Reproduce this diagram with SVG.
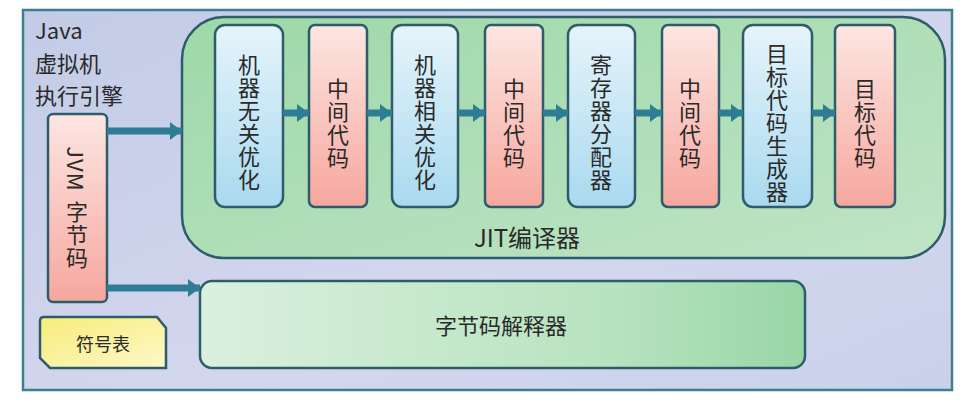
<svg xmlns="http://www.w3.org/2000/svg" width="969" height="407" viewBox="0 0 969 407">
<style>
.t{font-family:"Noto Sans CJK SC","Liberation Sans",sans-serif;fill:#2a2a2a}
.v{font-size:22px;text-anchor:middle;writing-mode:vertical-rl;letter-spacing:1px}
.bx{stroke:#2d5d6a;stroke-width:2.5}
.blue{fill:url(#gBlue)}
.red{fill:url(#gRed)}
.arr{stroke:#2f7c95;stroke-width:7;fill:none;marker-end:url(#ah)}
</style>
<defs>
<linearGradient id="gOuter" x1="0" y1="0" x2="1" y2="1">
<stop offset="0" stop-color="#c3cbe6"/><stop offset="0.6" stop-color="#d3d7ee"/><stop offset="1" stop-color="#c9d1ea"/>
</linearGradient>
<linearGradient id="gJit" x1="0" y1="0" x2="1" y2="1">
<stop offset="0" stop-color="#9ed8a8"/><stop offset="1" stop-color="#bfe4c6"/>
</linearGradient>
<linearGradient id="gBlue" x1="0" y1="0" x2="0" y2="1">
<stop offset="0" stop-color="#e6f4fb"/><stop offset="1" stop-color="#a9d9ef"/>
</linearGradient>
<linearGradient id="gRed" x1="0" y1="0" x2="0" y2="1">
<stop offset="0" stop-color="#fde6e2"/><stop offset="1" stop-color="#f6a79e"/>
</linearGradient>
<linearGradient id="gInt" x1="0" y1="0" x2="1" y2="0">
<stop offset="0" stop-color="#daf0de"/><stop offset="0.7" stop-color="#b6e2be"/><stop offset="1" stop-color="#98d6a6"/>
</linearGradient>
<linearGradient id="gYel" x1="0" y1="0" x2="1" y2="1">
<stop offset="0" stop-color="#f8ec7a"/><stop offset="1" stop-color="#fdf8c8"/>
</linearGradient>
<marker id="ah" viewBox="0 0 12 18" refX="12" refY="9" markerWidth="12" markerHeight="18" markerUnits="userSpaceOnUse" orient="auto">
<path d="M0,0 L12,9 L0,18 Z" fill="#2f7c95"/>
</marker>
</defs>
<rect width="969" height="407" fill="#ffffff"/>
<g id="frame">
<rect x="23" y="10" width="929" height="380" fill="url(#gOuter)" stroke="#3e7e8e" stroke-width="2.5"/>
<text class="t" font-size="22" x="35" y="39">Java</text>
<text class="t" font-size="22" x="35" y="72">虚拟机</text>
<text class="t" font-size="22" x="35" y="104">执行引擎</text>
</g>
<g id="jit">
<rect class="bx" x="182" y="17" width="763" height="241" rx="42" ry="42" fill="url(#gJit)"/>
<text class="t" font-size="24" x="527" y="247" text-anchor="middle">JIT编译器</text>
</g>
<g id="n1">
<rect class="bx blue" x="215" y="25" width="68" height="182" rx="10"/>
<text class="t v" x="249" y="123">机器无关优化</text>
</g>
<g id="n2">
<rect class="bx red" x="309" y="25" width="58" height="182" rx="6"/>
<text class="t v" x="338" y="124">中间代码</text>
</g>
<g id="n3">
<rect class="bx blue" x="392" y="25" width="66" height="182" rx="10"/>
<text class="t v" x="425" y="123">机器相关优化</text>
</g>
<g id="n4">
<rect class="bx red" x="485" y="25" width="58" height="182" rx="6"/>
<text class="t v" x="514" y="124">中间代码</text>
</g>
<g id="n5">
<rect class="bx blue" x="568" y="25" width="67" height="182" rx="10"/>
<text class="t v" x="601" y="123">寄存器分配器</text>
</g>
<g id="n6">
<rect class="bx red" x="662" y="25" width="57" height="182" rx="6"/>
<text class="t v" x="690" y="124">中间代码</text>
</g>
<g id="n7">
<rect class="bx blue" x="743" y="25" width="69" height="182" rx="10"/>
<text class="t v" x="777" y="123">目标代码生成器</text>
</g>
<g id="n8">
<rect class="bx red" x="835" y="25" width="60" height="182" rx="6"/>
<text class="t v" x="865" y="124">目标代码</text>
</g>
<g id="jvm">
<rect class="bx red" x="48" y="114" width="59" height="188" rx="5"/>
<text class="t v" x="77" y="208">JVM<tspan dy="9">字节码</tspan></text>
</g>
<g id="interp">
<rect class="bx" x="200" y="281" width="605" height="87" rx="12" fill="url(#gInt)"/>
<text class="t" font-size="22" x="501" y="334" text-anchor="middle">字节码解释器</text>
</g>
<g id="symtab">
<path class="bx" d="M44,317 L157,317 L166,328 L166,368 L50,368 L40,358 L40,321 Q40,317 44,317 Z" fill="url(#gYel)"/>
<text class="t" font-size="18" x="103" y="351" text-anchor="middle">符号表</text>
</g>
<g id="connectors">
<line class="arr" x1="107" y1="131" x2="182" y2="131"/>
<line class="arr" x1="107" y1="288" x2="200" y2="288"/>
<line class="arr" x1="283" y1="113" x2="309" y2="113"/>
<line class="arr" x1="367" y1="113" x2="392" y2="113"/>
<line class="arr" x1="458" y1="113" x2="485" y2="113"/>
<line class="arr" x1="543" y1="113" x2="568" y2="113"/>
<line class="arr" x1="635" y1="113" x2="662" y2="113"/>
<line class="arr" x1="719" y1="113" x2="743" y2="113"/>
<line class="arr" x1="812" y1="113" x2="835" y2="113"/>
</g>
</svg>
